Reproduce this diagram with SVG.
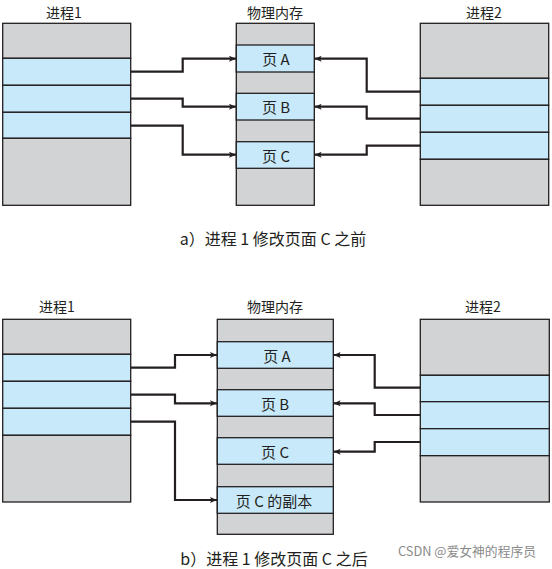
<svg xmlns="http://www.w3.org/2000/svg" width="552" height="569" viewBox="0 0 552 569">
<defs>
<style>
.g{fill:#d1d3d4;stroke:#231f20;stroke-width:1.3}
.b{fill:#c8e9fa;stroke:#231f20;stroke-width:1.3}
.t{font-family:"Noto Sans CJK SC","Noto Sans",sans-serif;fill:#231f20;text-anchor:middle;dominant-baseline:central}
.h{font-size:14px}
.p{font-size:15px}
.c{font-size:16px}
.w{font-family:"Noto Sans CJK SC","Noto Sans",sans-serif;font-size:12.8px;fill:#8a8a8a}
.l{fill:none;stroke:#231f20;stroke-width:2.2;marker-end:url(#ah)}
</style>
<marker id="ah" markerUnits="userSpaceOnUse" markerWidth="8" markerHeight="8" refX="7" refY="4" orient="auto">
<path d="M0,1 L7,4 L0,7 L1.5,4 Z" fill="#231f20"/>
</marker>
</defs>
<rect width="552" height="569" fill="#ffffff"/>

<!-- ===== a) ===== -->
<g id="a-proc1">
<text class="t h" x="64" y="12">进程1</text>
<rect class="g" x="2.7" y="23.3" width="128" height="35"/>
<rect class="b" x="2.7" y="58.3" width="128" height="27"/>
<rect class="b" x="2.7" y="85.3" width="128" height="27"/>
<rect class="b" x="2.7" y="112.3" width="128" height="26"/>
<rect class="g" x="2.7" y="138.3" width="128" height="67"/>
</g>
<g id="a-mem">
<text class="t h" x="275" y="12">物理内存</text>
<rect class="g" x="236.3" y="23.3" width="78" height="182"/>
<rect class="b" x="236.3" y="45" width="78" height="27"/>
<rect class="b" x="236.3" y="93.3" width="78" height="26.7"/>
<rect class="b" x="236.3" y="141.7" width="78" height="26.6"/>
<text class="t p" x="276" y="58.5">页 A</text>
<text class="t p" x="276" y="106.7">页 B</text>
<text class="t p" x="276" y="155">页 C</text>
</g>
<g id="a-proc2">
<text class="t h" x="484" y="12">进程2</text>
<rect class="g" x="420.3" y="23.3" width="128.4" height="55"/>
<rect class="b" x="420.3" y="78.3" width="128.4" height="27"/>
<rect class="b" x="420.3" y="105.3" width="128.4" height="27"/>
<rect class="b" x="420.3" y="132.3" width="128.4" height="27"/>
<rect class="g" x="420.3" y="159.3" width="128.4" height="46"/>
</g>
<g id="a-connectors">
<path class="l" d="M130.7,71.7 H182.7 V58.7 H236"/>
<path class="l" d="M130.7,98.7 H182.7 V106.7 H236"/>
<path class="l" d="M130.7,125.7 H182.7 V154.7 H236"/>
<path class="l" d="M420.3,91.7 H366.7 V58.7 H314.6"/>
<path class="l" d="M420.3,118.7 H366.7 V106.7 H314.6"/>
<path class="l" d="M420.3,145.7 H366.7 V154.7 H314.6"/>
</g>
<text id="cap-a" class="t c" x="273" y="238">a）进程 1 修改页面 C 之前</text>

<!-- ===== b) ===== -->
<g id="b-proc1">
<text class="t h" x="57" y="306">进程1</text>
<rect class="g" x="2.7" y="319.3" width="128" height="35"/>
<rect class="b" x="2.7" y="354.3" width="128" height="27"/>
<rect class="b" x="2.7" y="381.3" width="128" height="27"/>
<rect class="b" x="2.7" y="408.3" width="128" height="27"/>
<rect class="g" x="2.7" y="435.3" width="128" height="66.7"/>
</g>
<g id="b-mem">
<text class="t h" x="275" y="306">物理内存</text>
<rect class="g" x="217.3" y="319.3" width="116" height="215"/>
<rect class="b" x="217.3" y="341.7" width="116" height="26.6"/>
<rect class="b" x="217.3" y="389.7" width="116" height="26.6"/>
<rect class="b" x="217.3" y="437.7" width="116" height="26.6"/>
<rect class="b" x="217.3" y="486.7" width="116" height="26.6"/>
<text class="t p" x="277" y="355">页 A</text>
<text class="t p" x="275" y="403">页 B</text>
<text class="t p" x="275" y="451">页 C</text>
<text class="t p" x="274" y="500">页 C 的副本</text>
</g>
<g id="b-proc2">
<text class="t h" x="483" y="306">进程2</text>
<rect class="g" x="420.3" y="319.3" width="129" height="56"/>
<rect class="b" x="420.3" y="375.3" width="129" height="26.4"/>
<rect class="b" x="420.3" y="401.7" width="129" height="27"/>
<rect class="b" x="420.3" y="428.7" width="129" height="27"/>
<rect class="g" x="420.3" y="455.7" width="129" height="46.3"/>
</g>
<g id="b-connectors">
<path class="l" d="M130.7,367.7 H175 V355 H217"/>
<path class="l" d="M130.7,394.7 H175 V403.3 H217"/>
<path class="l" d="M130.7,421.7 H175 V500 H217"/>
<path class="l" d="M420.3,387.7 H374.7 V355 H333.6"/>
<path class="l" d="M420.3,415 H374.7 V403.3 H333.6"/>
<path class="l" d="M420.3,442 H374.7 V451.7 H333.6"/>
</g>
<text id="cap-b" class="t c" x="274" y="558">b）进程 1 修改页面 C 之后</text>
<text class="w" x="398" y="556">CSDN @爱女神的程序员</text>
</svg>
